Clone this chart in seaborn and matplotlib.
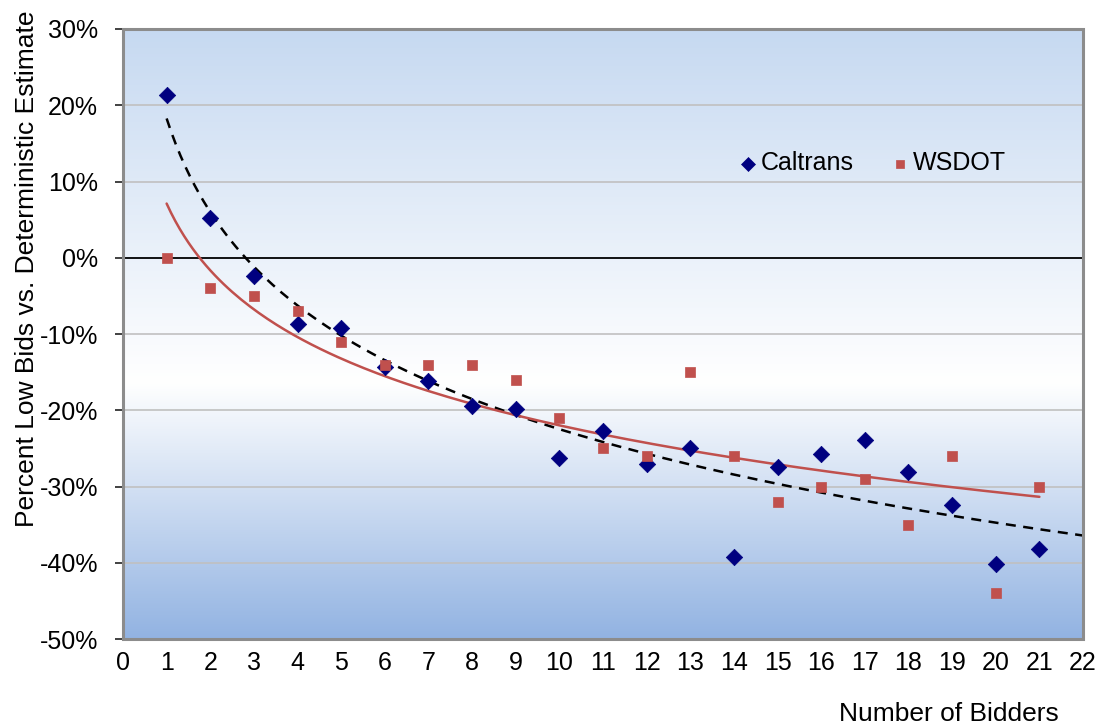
import numpy as np
import pandas as pd
import seaborn as sns
import matplotlib.pyplot as plt
from matplotlib.colors import LinearSegmentedColormap
from matplotlib.patches import Rectangle
from matplotlib.ticker import FuncFormatter, MultipleLocator

bidders = list(range(1, 22))
caltrans = [21.4, 5.2, -2.4, -8.7, -9.2, -14.3, -16.1, -19.4, -19.8, -26.2, -22.7,
            -27.1, -25.0, -39.2, -27.4, -25.8, -23.9, -28.1, -32.4, -40.1, -38.2]
wsdot = [0.0, -4.0, -5.0, -7.0, -11.0, -14.0, -14.0, -14.0, -16.0, -21.0, -25.0,
         -26.0, -15.0, -26.0, -32.0, -30.0, -29.0, -35.0, -26.0, -44.0, -30.0]

df = pd.DataFrame({"bidders": bidders, "Caltrans": caltrans, "WSDOT": wsdot})

# logarithmic trendlines, like Excel's
bc, ac = np.polyfit(np.log(df["bidders"]), df["Caltrans"], 1)
bw, aw = np.polyfit(np.log(df["bidders"]), df["WSDOT"], 1)
xc = np.linspace(1, 22, 200)
xw = np.linspace(1, 21, 200)
trend_c = pd.DataFrame({"x": xc, "y": ac + bc * np.log(xc)})
trend_w = pd.DataFrame({"x": xw, "y": aw + bw * np.log(xw)})

sns.set_style("white")
plt.rcParams["font.family"] = ["Liberation Sans", "DejaVu Sans"]
plt.rcParams["text.color"] = "black"
plt.rcParams["xtick.labelcolor"] = "black"
plt.rcParams["ytick.labelcolor"] = "black"
plt.rcParams["axes.labelcolor"] = "black"

fig = plt.figure(figsize=(11.1, 7.25), dpi=100)
ax = fig.add_axes([0.1108, 0.1186, 0.8649, 0.8414])

# gradient background
cmap = LinearSegmentedColormap.from_list(
    "bg", [(0.0, "#c6d9f1"), (0.58, "#ffffff"), (1.0, "#92b3e2")])
grad = np.linspace(0, 1, 256).reshape(-1, 1)
ax.imshow(grad, cmap=cmap, aspect="auto", extent=[0, 22, -50, 30],
          origin="upper", zorder=0)

for v in range(-40, 31, 10):
    if v != 0:
        ax.axhline(v, color="#c0c0c0", lw=1.2, zorder=1)

sns.lineplot(data=trend_c, x="x", y="y", ax=ax, color="black", lw=1.8,
             linestyle=(0, (4, 3)), zorder=3)
sns.lineplot(data=trend_w, x="x", y="y", ax=ax, color="#c0504d", lw=1.8, zorder=3)

sns.scatterplot(data=df, x="bidders", y="Caltrans", ax=ax, marker="D", s=70,
                color="#000080", edgecolor="#000080", linewidth=0.5,
                label="Caltrans", zorder=4)
sns.scatterplot(data=df, x="bidders", y="WSDOT", ax=ax, marker="s", s=45,
                color="#c0504d", edgecolor="#c0504d", linewidth=0.5,
                label="WSDOT", zorder=4)

ax.set_xlim(0, 22)
ax.set_ylim(-50, 30)
ax.xaxis.set_major_locator(MultipleLocator(1))
ax.yaxis.set_major_locator(MultipleLocator(10))
ax.yaxis.set_major_formatter(FuncFormatter(lambda v, p: f"{v:.0f}%"))

# x axis crosses at 0%, labels stay at the bottom
ax.spines["bottom"].set_position(("data", 0))
ax.spines["bottom"].set_color("black")
ax.spines["bottom"].set_linewidth(1.3)
ax.spines["bottom"].set_zorder(2)
ax.spines["left"].set_color("black")
ax.spines["left"].set_linewidth(1.3)
ax.spines["top"].set_visible(False)
ax.spines["right"].set_visible(False)
ax.add_patch(Rectangle((0, 0), 1, 1, transform=ax.transAxes, fill=False,
                       edgecolor="#8c8c8c", lw=2.2, zorder=5, clip_on=False))

ax.tick_params(axis="x", direction="out", length=6, width=1.3, color="#555555",
               pad=277, labelsize=18)
ax.tick_params(axis="y", direction="out", length=6, width=1.3, color="#333333",
               pad=12, labelsize=18, left=True)

ax.set_xlabel("")
ax.set_ylabel("Percent Low Bids vs. Deterministic Estimate", fontsize=19)
ax.yaxis.set_label_coords(-0.088, 0.607)
fig.text(0.855, -0.002, "Number of Bidders", fontsize=19, ha="center", va="bottom")

leg = ax.legend(loc="center left", bbox_to_anchor=(0.62, 0.78), ncol=2,
                frameon=False, fontsize=18, handlelength=0.6, handletextpad=0.2,
                columnspacing=1.55, markerscale=0.85)

fig.savefig("out.png", dpi=100)
